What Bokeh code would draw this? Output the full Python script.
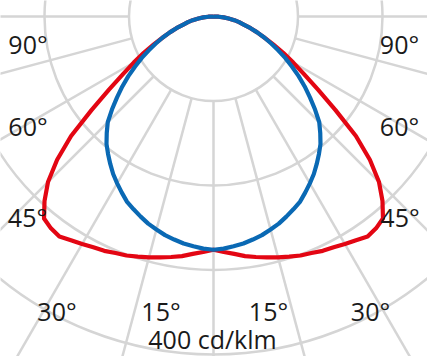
import numpy as np
from bokeh.plotting import figure
from bokeh.models import Range1d
from bokeh.embed import file_html
from bokeh.resources import INLINE
from bokeh.core.properties import value

# ---- data (cd/klm), symmetric curves, angle from nadir ----
angles = [0, 2.5, 5, 7.5, 10, 12.5, 15, 17.5, 20, 22.5, 25, 27.5, 30, 32.5, 35, 37.5,
          40, 42.5, 45, 47.5, 50, 52.5, 55, 57.5, 60, 62.5, 65, 67.5, 70, 72.5, 75,
          77.5, 80, 82.5, 85, 87.5, 90]
red_c0_c180 = [276, 279, 282, 286, 289, 292, 295, 298, 301, 303, 306, 308, 311, 314, 318, 316,
               312, 296, 277, 251, 220, 182, 151, 127, 109, 93, 78, 65, 55, 46, 37,
               31, 25, 18, 12, 6, 0]
blue_c90_c270 = [276, 275, 273, 271, 268, 265, 261, 257, 252, 247, 242, 235, 228, 221, 213, 205,
                 197, 187, 177, 163, 149, 136, 123, 110, 98, 86, 75, 65, 55, 46, 37,
                 31, 25, 18, 12, 6, 0]
ring_values = [100, 200, 300, 400, 500]
spoke_angles = list(range(0, 360, 15))
angle_labels = ["90°", "60°", "45°", "30°", "15°"]
scale_label = "400 cd/klm"

# ---- layout ----
W, H = 427, 356
PX = 0.845            # pixels per cd/klm
CXP, CYP = 213, 16    # pixel position of the polar origin
GRID = "#d5d5d5"
RED = "#e30613"
BLUE = "#0a69b4"
TXT = "#1a1a1a"
TEXT_SHIFT = -8.5     # correction for rendered baseline

def pxy(xp, yp):
    return (xp - CXP) / PX, -(yp + TEXT_SHIFT - CYP) / PX

p = figure(width=W, height=H,
           x_range=Range1d(-CXP / PX, (W - CXP) / PX),
           y_range=Range1d(-(H - CYP) / PX, CYP / PX),
           output_backend="svg", toolbar_location=None,
           x_axis_location=None, y_axis_location=None, min_border=0)
p.grid.visible = False
p.outline_line_color = None
p.background_fill_color = "white"
p.border_fill_color = "white"

# rings
p.circle(x=[0] * len(ring_values), y=[0] * len(ring_values), radius=ring_values,
         fill_color=None, line_color=GRID, line_width=2.5)

# spokes
r_in, r_out = ring_values[0], 800
sx, sy = [], []
for a in spoke_angles:
    t = np.radians(a)
    sx.append([r_in * np.sin(t), r_out * np.sin(t)])
    sy.append([-r_in * np.cos(t), -r_out * np.cos(t)])
p.multi_line(xs=sx, ys=sy, line_color=GRID, line_width=2.5)

# curves
th = np.radians(angles)
def curve(vals):
    r = np.array(vals, dtype=float)
    x = r * np.sin(th)
    y = -r * np.cos(th)
    xs = np.concatenate([-x[::-1], x[1:]])
    ys = np.concatenate([y[::-1], y[1:]])
    return xs, ys

rx, ry = curve(red_c0_c180)
bx, by = curve(blue_c90_c270)
p.line(rx, ry, line_color=RED, line_width=4.2, line_join="round")
p.line(bx, by, line_color=BLUE, line_width=4.2, line_join="round")

# labels (pixel centre x, baseline y)
lab_pos_left = [(27.5, 52), (27.5, 133.5), (27, 225), (56.5, 318.5), (160.5, 318.5)]
lab_pos_right = [(399, 52), (399, 133.5), (399.5, 225), (370, 318.5), (268, 318.5)]
tx, ty, tt = [], [], []
for lab, a, b in zip(angle_labels, lab_pos_left, lab_pos_right):
    for (xp, yp) in (a, b):
        x, y = pxy(xp, yp)
        tx.append(x); ty.append(y); tt.append(lab)
x, y = pxy(212, 346.5)
tx.append(x); ty.append(y); tt.append(scale_label)
p.text(x=tx, y=ty, text=tt, text_font=value("Open Sans"), text_font_size="25px",
       text_align="center", text_baseline="alphabetic", text_color=TXT)

open("out.html", "w").write(file_html(p, INLINE))
